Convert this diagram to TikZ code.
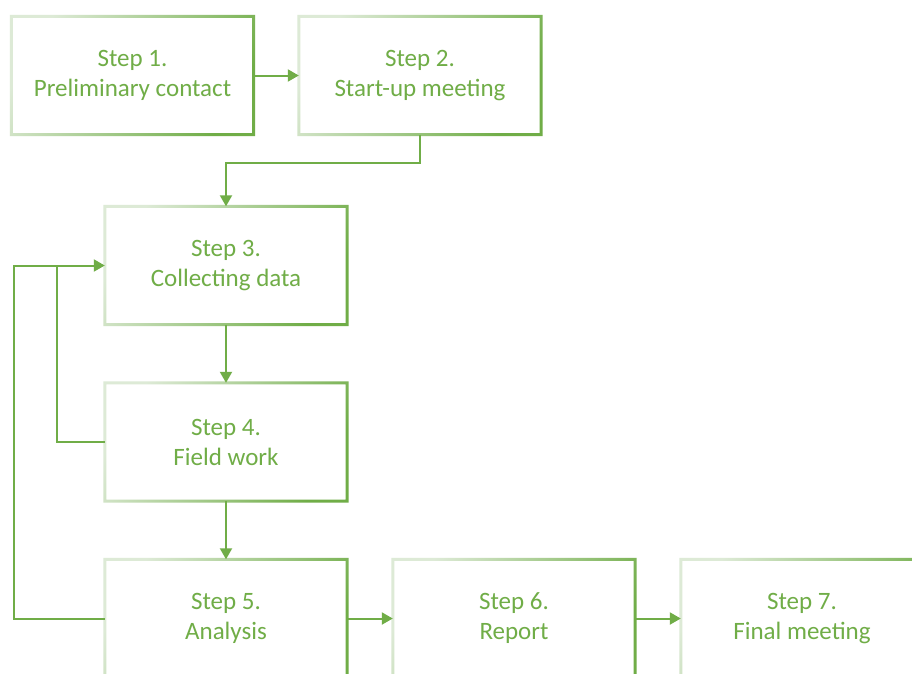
\documentclass[tikz,border=0pt]{standalone}
\usepackage{fontspec}
\setmainfont{Carlito}
\usetikzlibrary{arrows.meta}
\definecolor{stepgreen}{HTML}{70AD47}
\definecolor{steplight}{HTML}{DDEAD6}
\tikzset{
	stepbox/.style={fill=white,minimum width=242pt,minimum height=118pt,inner sep=0pt,
		align=center,text=stepgreen,font=\fontsize{25}{30}\selectfont},
	flow/.style={line width=2pt,color=stepgreen,-{Triangle[length=11pt,width=12pt]}},
	flowline/.style={line width=2pt,color=stepgreen}
}
\begin{document}
\begin{tikzpicture}[line cap=butt,line join=miter,x=1pt,y=1pt]
	\clip (0,0) rectangle (912,-673);
	\fill[white] (0,0) rectangle (912,-673);
	\node[stepbox] (s1) at (132.5,-75.5) {Step 1.\\Preliminary contact};
	\node[stepbox] (s2) at (420,-75.5) {Step 2.\\Start-up meeting};
	\node[stepbox] (s3) at (226,-265.5) {Step 3.\\Collecting data};
	\node[stepbox] (s4) at (226,-442) {Step 4.\\Field work};
	\node[stepbox] (s5) at (226,-618.5) {Step 5.\\Analysis};
	\node[stepbox] (s6) at (514,-618.5) {Step 6.\\Report};
	\node[stepbox] (s7) at (802,-618.5) {Step 7.\\Final meeting};
	% gradient frames
	\foreach \n in {s1,s2,s3,s4,s5,s6,s7}
		\shade[even odd rule,top color=steplight,bottom color=stepgreen,shading angle=60]
			([shift={(-1.5,-1.5)}]\n.south west) rectangle ([shift={(1.5,1.5)}]\n.north east)
			([shift={(1.5,1.5)}]\n.south west) rectangle ([shift={(-1.5,-1.5)}]\n.north east);
	% connectors
	\draw[flow] (s1.east) -- (s2.west);
	\draw[flow] (s2.south) -- ([yshift=-28]s2.south) -| (s3.north);
	\draw[flow] (s3.south) -- (s4.north);
	\draw[flow] (s4.south) -- (s5.north);
	\draw[flow] (s5.east) -- (s6.west);
	\draw[flow] (s6.east) -- (s7.west);
	\draw[flow] (s4.west) -- ++(-48,0) |- (s3.west);
	\draw[flowline] (s5.west) -- ++(-91,0) |- ([xshift=-48]s3.west);
\end{tikzpicture}
\end{document}
